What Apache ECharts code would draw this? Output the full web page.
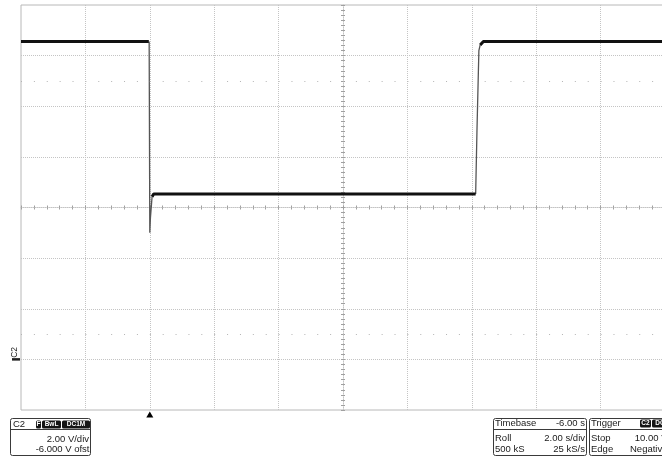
<!DOCTYPE html>
<html><head><meta charset="utf-8">
<script src="https://cdn.jsdelivr.net/npm/echarts@6/dist/echarts.min.js"></script>
<style>html,body{margin:0;padding:0;background:#fff}#c{width:662px;height:457px}</style>
</head><body><div id="c"></div>
<script>
// Time in seconds relative to trigger, voltage in volts (2.00 V/div, -6.000 V offset, 2.00 s/div)
const traceTime  = [-4.0, -2.0, -0.03, 0.02, 0.07, 0.12, 3.0, 6.0, 9.0, 10.12, 10.2, 10.26, 10.36, 13.0, 16.0];
const traceVolts = [12.56, 12.56, 12.56, null, 6.42, 6.53, 6.53, 6.53, 6.53, 6.53, null, 12.42, 12.56, 12.56, 12.56];
const fallTime   = [-0.02, 0.0, 0.02, 0.07];
const fallVolts  = [12.56, 5.0, 5.6, 6.42];
const riseTime   = [10.12, 10.16, 10.22, 10.26];
const riseVolts  = [6.53, 9.0, 12.2, 12.42];
const markerLevels = [11, 1];          // dotted reference rows
const triggerTime = 0;                 // trigger arrow
const groundLevel = 0;                 // C2 ground marker
const chLabel = 'C2';
const chInfo = ['2.00 V/div', '-6.000 V ofst'];
const chBadges = ['F', 'BwL', 'DC1M'];
const tbRows = [['Timebase', '-6.00 s'], ['Roll', '2.00 s/div'], ['500 kS', '25 kS/s']];
const trRows = [['Trigger', ''], ['Stop', '10.00 V'], ['Edge', 'Negative']];

const pairs = (t, v) => t.map((x, i) => [x, v[i]]);
const FONT = '9.5px "Liberation Sans", Arial, sans-serif';
const gridC = '#c4c4c4', tickC = '#a0a0a0';

function txt(x, y, s, align, extra) {
  return Object.assign({type: 'text', x: x, y: y, silent: true,
    style: {text: s, fill: '#1a1a1a', font: FONT, align: align, verticalAlign: 'middle',
            textAlign: align, textVerticalAlign: 'middle'}}, extra || {});
}
function box(x, y, w, h, sepY) {
  return [
    {type: 'rect', shape: {x: x, y: y, width: w, height: h, r: 2}, style: {fill: '#fff', stroke: '#3a3a3a', lineWidth: 1}, silent: true},
    {type: 'line', shape: {x1: x, y1: sepY, x2: x + w, y2: sepY}, style: {stroke: '#3a3a3a', lineWidth: 1}, silent: true}
  ];
}
function badge(x, y, w, s) {
  return [
    {type: 'rect', shape: {x: x, y: y, width: w, height: 8, r: 1.5}, style: {fill: '#151515'}, silent: true},
    {type: 'text', x: x + w / 2, y: y + 4.2, silent: true,
     style: {text: s, fill: '#fff', font: 'bold 6.5px "Liberation Sans", Arial, sans-serif', align: 'center', verticalAlign: 'middle', textAlign: 'center', textVerticalAlign: 'middle'}}
  ];
}

let graphics = [];
graphics = graphics.concat(box(10.5, 418.5, 80, 37, 429.5));
graphics.push(txt(13, 424, chLabel, 'left'));
graphics = graphics.concat(badge(36, 420.5, 5, chBadges[0]), badge(42, 420.5, 19, chBadges[1]), badge(62, 420.5, 28, chBadges[2]));
graphics.push(txt(89, 439, chInfo[0], 'right'), txt(89.5, 449.5, chInfo[1], 'right'));

graphics = graphics.concat(box(493.5, 418.5, 93, 37, 429.5));
const rowY = [423.5, 438.5, 449];
tbRows.forEach((r, i) => { graphics.push(txt(495, rowY[i], r[0], 'left'), txt(585, rowY[i], r[1], 'right')); });

graphics = graphics.concat(box(589.5, 418.5, 80, 37, 429.5));
trRows.forEach((r, i) => { graphics.push(txt(591, rowY[i], r[0], 'left')); if (r[1]) graphics.push(txt(667.5, rowY[i], r[1], 'right')); });
graphics = graphics.concat(badge(640, 419.5, 11, 'C2'), badge(652, 419.5, 16, 'DC'));

const chart = echarts.init(document.getElementById('c'), null, {renderer: 'canvas'});
const hidden = {axisLabel: {show: false}, splitLine: {show: false}};
const tickAxis = (min, max, interval, pos, inside, ref, split) => Object.assign({
  type: 'value', min: min, max: max, interval: interval, position: pos,
  axisLine: {show: !inside, onZero: true, onZeroAxisIndex: ref, lineStyle: {color: gridC, type: 'dotted', width: 1}},
  axisTick: {show: true, inside: inside, length: 2, lineStyle: {color: tickC, width: 1}},
  minorTick: {show: true, splitNumber: split, length: 2, lineStyle: {color: tickC, width: 1}}
}, hidden);

chart.setOption({
  animation: false,
  backgroundColor: '#fff',
  grid: {left: 21, top: 5, width: 644, height: 405, show: true, borderColor: '#b8b8b8', borderWidth: 1,
         containLabel: false, outerBoundsMode: 'none'},
  xAxis: [
    {type: 'value', min: -4, max: 16, interval: 2, axisLine: {show: false, onZero: false}, axisTick: {show: false},
     axisLabel: {show: false},
     splitLine: {show: true, showMinLine: false, showMaxLine: false, lineStyle: {color: gridC, type: 'dotted', width: 1}}},
    tickAxis(-4, 16, 2, 'bottom', false, 1, 5),
    tickAxis(-4, 16, 2, 'bottom', true, 1, 5),
    Object.assign({type: 'value', min: -5, max: 5, show: false, axisLine: {onZero: false}}, hidden)
  ],
  yAxis: [
    {type: 'value', min: -2, max: 14, interval: 2, axisLine: {show: false, onZero: false}, axisTick: {show: false},
     axisLabel: {show: false},
     splitLine: {show: true, showMinLine: false, showMaxLine: false, lineStyle: {color: gridC, type: 'dotted', width: 1}}},
    tickAxis(-8, 8, 1, 'left', false, 3, 5),
    tickAxis(-8, 8, 1, 'left', true, 3, 5)
  ],
  graphic: graphics,
  series: [
    {type: 'line', xAxisIndex: 0, yAxisIndex: 0, data: pairs(fallTime, fallVolts), symbol: 'none',
     lineStyle: {color: '#555', width: 1.3}, z: 3, silent: true},
    {type: 'line', xAxisIndex: 0, yAxisIndex: 0, data: pairs(riseTime, riseVolts), symbol: 'none',
     lineStyle: {color: '#555', width: 1.3}, z: 3, silent: true},
    {type: 'line', xAxisIndex: 0, yAxisIndex: 0, data: pairs(traceTime, traceVolts), symbol: 'none',
     connectNulls: false, lineStyle: {color: '#111', width: 3}, z: 4, silent: true,
     markLine: {silent: true, symbol: 'none', label: {show: false},
                lineStyle: {color: '#b4b4b4', type: [1, 11.88], width: 1},
                data: markerLevels.map(v => ({yAxis: v}))},
     markPoint: {silent: true, data: [
        {coord: [triggerTime, -2], symbol: 'triangle', symbolSize: [7, 6], symbolOffset: [0, 4.5],
         itemStyle: {color: '#000'}, label: {show: false}},
        {coord: [-4, groundLevel], symbol: 'rect', symbolSize: [8, 2.5], symbolOffset: [-5, 0],
         itemStyle: {color: '#222'}, label: {show: false}},
        {coord: [-4, groundLevel], symbol: 'rect', symbolSize: 0,
         itemStyle: {color: 'transparent'},
         label: {show: true, formatter: chLabel, rotate: 90, offset: [7, -6], fontSize: 8.5,
                 color: '#222', fontFamily: '"Liberation Sans", Arial, sans-serif'}}
     ]}}
  ]
});
</script></body></html>
